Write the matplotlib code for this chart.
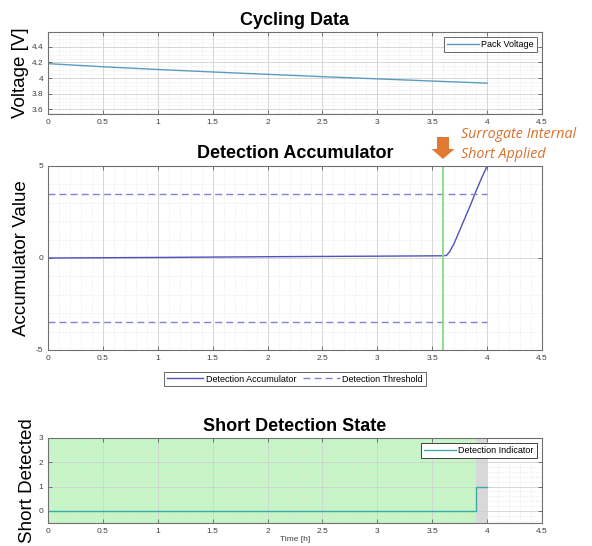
import matplotlib
matplotlib.use("Agg")
import matplotlib.pyplot as plt
from matplotlib.ticker import MultipleLocator
from matplotlib.patches import FancyArrow

plt.rcParams['font.family'] = ['Liberation Sans', 'DejaVu Sans']

# ---- data ----
volt_t = [0.0, 0.5, 1.0, 1.5, 2.0, 2.5, 3.0, 3.5, 4.0]
volt_v = [4.185, 4.145, 4.11, 4.078, 4.048, 4.018, 3.99, 3.962, 3.935]

acc_t = [0.0, 1.0, 2.0, 3.0, 3.6, 3.63, 3.66, 3.70, 3.75, 3.80, 3.85, 3.90, 3.95, 4.0]
acc_v = [0.0, 0.03, 0.07, 0.1, 0.12, 0.14, 0.35, 0.8, 1.5, 2.2, 2.9, 3.65, 4.35, 5.0]
threshold = 3.5
thr_t = [0.0, 4.0]
short_time = 3.6

det_t = [0.0, 3.9, 4.0]
det_v = [0, 1, 1]
green_span = (0.0, 3.9)
gray_span = (3.9, 4.0)

W, H = 592, 546
fig = plt.figure(figsize=(W / 100, H / 100), dpi=100)

def fx(px):
    return px / W

def fy(py):
    return 1 - py / H

L, R = 48, 542

def make_axes(top, bottom):
    return fig.add_axes([fx(L), fy(bottom), fx(R) - fx(L), fy(top) - fy(bottom)])

def style(ax, ymaj, ymin):
    ax.set_xlim(0, 4.5)
    ax.xaxis.set_major_locator(MultipleLocator(0.5))
    ax.xaxis.set_minor_locator(MultipleLocator(0.1))
    ax.yaxis.set_major_locator(MultipleLocator(ymaj))
    ax.yaxis.set_minor_locator(MultipleLocator(ymin))
    ax.set_axisbelow(True)
    ax.grid(which='major', color='#d0d0d0', lw=0.6)
    ax.grid(which='minor', color='#e0e0e0', lw=0.5, ls=':')
    ax.tick_params(which='both', direction='in', top=True, right=True,
                   labelsize=6, labelcolor='#404040', color='#606060')
    ax.tick_params(which='major', length=3, width=0.6)
    ax.tick_params(which='minor', length=0)
    for s in ax.spines.values():
        s.set_color('#707070')
        s.set_linewidth(0.8)
    ax.xaxis.set_major_formatter(plt.FuncFormatter(lambda v, p: f"{v:g}"))
    ax.yaxis.set_major_formatter(plt.FuncFormatter(lambda v, p: f"{v:g}"))

TITLE_FS = 13

# ---- top: cycling data ----
ax1 = make_axes(32, 114)
style(ax1, 0.2, 0.05)
ax1.set_ylim(3.54, 4.59)
ax1.plot(volt_t, volt_v, color='#5a9cc0', lw=1.0, label='Pack Voltage')
ax1.set_title('Cycling Data', fontsize=TITLE_FS, fontweight='bold', pad=5)
ax1.set_ylabel('Voltage [V]', fontsize=13.5, labelpad=2)
lg = ax1.legend(loc='upper right', fontsize=6.5, frameon=True, fancybox=False,
                edgecolor='#404040', handlelength=3.5, borderpad=0.3,
                handletextpad=0.3, borderaxespad=0.6)
lg.get_frame().set_linewidth(0.7)

# ---- middle: detection accumulator ----
ax2 = make_axes(166, 350)
style(ax2, 5, 1)
ax2.set_ylim(-5, 5)
l1, = ax2.plot(acc_t, acc_v, color='#5050c0', lw=1.0, label='Detection Accumulator')
l2, = ax2.plot(thr_t, [threshold, threshold], color='#8080d8', lw=1.0, ls=(0, (5, 3)),
               label='Detection Threshold')
ax2.plot(thr_t, [-threshold, -threshold], color='#8080d8', lw=1.0, ls=(0, (5, 3)))
ax2.axvline(short_time, color='#8ee08e', lw=1.5)
ax2.set_title('Detection Accumulator', fontsize=TITLE_FS, fontweight='bold', pad=6)
ax2.set_ylabel('Accumulator Value', fontsize=13.5, labelpad=4)
lg2 = fig.legend(handles=[l1, l2], loc='center', ncol=2,
                 bbox_to_anchor=(fx(295), fy(379)), fontsize=6.5, frameon=True,
                 fancybox=False, edgecolor='#404040', handlelength=4,
                 borderpad=0.3, handletextpad=0.3, columnspacing=0.8)
lg2.get_frame().set_linewidth(0.7)

# annotation arrow and text
arr = FancyArrow(fx(443), fy(137), 0, -(fy(137) - fy(159)), width=12 / W,
                 head_width=23 / W, head_length=10 / H, length_includes_head=True,
                 transform=fig.transFigure, color='#e07a30', lw=0)
fig.patches.append(arr)
fig.text(fx(461), fy(135), 'Surrogate Internal', fontsize=10.3, style='italic',
         color='#d9702a', family=['Open Sans', 'DejaVu Sans'], va='center', ha='left')
fig.text(fx(461), fy(155), 'Short Applied', fontsize=10.3, style='italic',
         color='#d9702a', family=['Open Sans', 'DejaVu Sans'], va='center', ha='left')

# ---- bottom: short detection state ----
ax3 = make_axes(438, 523)
style(ax3, 1, 0.2)
ax3.set_ylim(-0.5, 3)
ax3.axvspan(*green_span, color='#c6f5c6', zorder=0.1, lw=0)
ax3.axvspan(*gray_span, color='#d8d8d8', zorder=0.1, lw=0)
ax3.plot(det_t, det_v, drawstyle='steps-post', color='#40a8a8', lw=1.0,
         label='Detection Indicator')
ax3.set_title('Short Detection State', fontsize=TITLE_FS, fontweight='bold', pad=5)
ax3.set_ylabel('Short Detected', fontsize=13.5, labelpad=2)
ax3.set_xlabel('Time [h]', fontsize=6, color='#404040', labelpad=1)
lg3 = ax3.legend(loc='upper right', fontsize=6.5, frameon=True, fancybox=False,
                 edgecolor='#404040', handlelength=3.5, borderpad=0.3,
                 handletextpad=0.3, borderaxespad=0.6, framealpha=1)
lg3.get_frame().set_linewidth(0.7)

fig.savefig('out.png', dpi=100)
